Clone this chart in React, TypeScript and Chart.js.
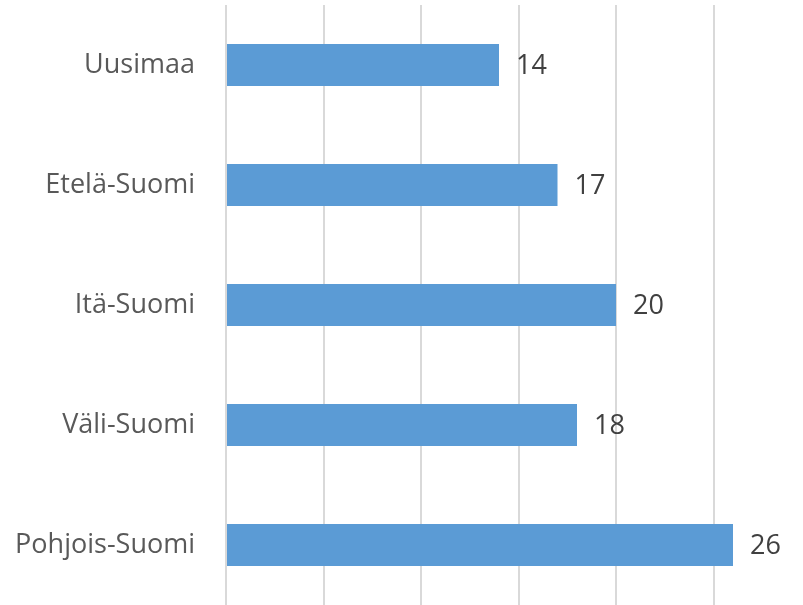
import React, { useEffect, useRef } from "react";
import { Chart, registerables } from "chart.js";

Chart.register(...registerables);

const categories = ["Uusimaa", "Etelä-Suomi", "Itä-Suomi", "Väli-Suomi", "Pohjois-Suomi"];
const values = [14, 17, 20, 18, 26];
const gridTicks = [0, 5, 10, 15, 20, 25];

const FONT = "'Open Sans', 'Noto Sans', sans-serif";

const dataLabelPlugin = {
  id: "dataLabels",
  afterDatasetsDraw(chart: any) {
    const ctx = chart.ctx;
    const meta = chart.getDatasetMeta(0);
    ctx.save();
    ctx.font = `27px ${FONT}`;
    ctx.fillStyle = "#404040";
    ctx.textAlign = "left";
    ctx.textBaseline = "middle";
    meta.data.forEach((bar: any, i: number) => {
      const v = chart.data.datasets[0].data[i];
      ctx.fillText(String(v), bar.x + 17, bar.y + 1);
    });
    ctx.restore();
  },
};

export default function App() {
  const ref = useRef<HTMLCanvasElement | null>(null);
  useEffect(() => {
    if (!ref.current) return;
    const chart = new Chart(ref.current, {
      type: "bar",
      data: {
        labels: categories,
        datasets: [
          {
            data: values,
            backgroundColor: "#5B9BD5",
            borderWidth: 0,
            barPercentage: 0.35,
            categoryPercentage: 1,
          },
        ],
      },
      options: {
        indexAxis: "y",
        animation: false,
        responsive: true,
        maintainAspectRatio: false,
        layout: { padding: { top: 5, right: 11.5, bottom: 0, left: 0 } },
        plugins: {
          legend: { display: false },
          tooltip: { enabled: false },
          title: { display: false },
        },
        scales: {
          x: {
            min: 0,
            max: 29,
            afterBuildTicks: (scale: any) => {
              scale.ticks = gridTicks.map((v) => ({ value: v }));
            },
            afterFit: (scale: any) => {
              scale.height = 0;
              scale.paddingLeft = 0;
              scale.paddingRight = 0;
            },
            ticks: { display: false },
            grid: { color: "#d9d9d9", lineWidth: 2, drawTicks: false },
            border: { display: false },
          },
          y: {
            afterFit: (scale: any) => {
              scale.width = 226;
              scale.paddingTop = 0;
              scale.paddingBottom = 0;
            },
            ticks: {
              padding: 31,
              color: "#595959",
              font: { family: FONT, size: 27 },
            },
            grid: { display: false, drawTicks: false },
            border: { display: false },
          },
        },
      },
      plugins: [dataLabelPlugin],
    } as any);
    return () => chart.destroy();
  }, []);
  return (
    <div style={{ position: "fixed", left: 0, top: 0, width: 803, height: 605, background: "#fff" }}>
      <canvas ref={ref} />
    </div>
  );
}
